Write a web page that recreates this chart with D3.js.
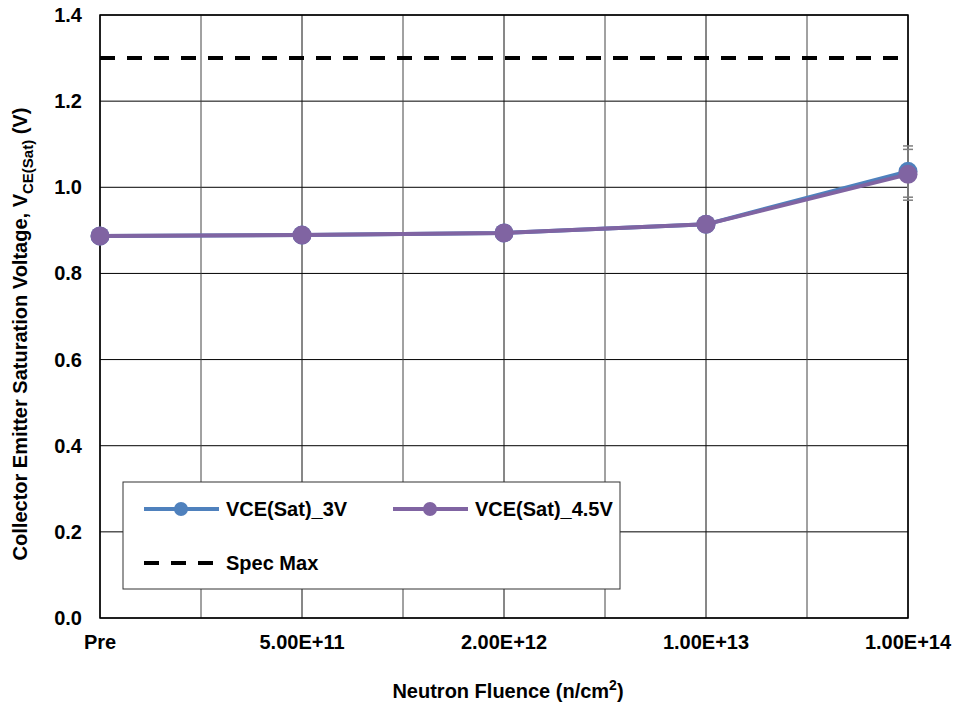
<!DOCTYPE html>
<html><head><meta charset="utf-8">
<script src="https://cdn.jsdelivr.net/npm/d3@7"></script>
<style>body{margin:0;background:#fff}text{font-family:"Liberation Sans",Arial,sans-serif;font-weight:bold}</style>
</head><body><svg id="c" width="955" height="707"></svg>
<script>
const categories = ["Pre","5.00E+11","2.00E+12","1.00E+13","1.00E+14"];
const vce3V = [0.887, 0.889, 0.894, 0.914, 1.037];
const vce45V = [0.887, 0.889, 0.894, 0.914, 1.030];
const err3VHigh = [null, null, null, null, 1.096];
const err3VLow = [null, null, null, null, 0.977];
const err45VHigh = [null, null, null, null, 1.088];
const err45VLow = [null, null, null, null, 0.970];
const specMax = 1.3;
const yTicks = [0,0.2,0.4,0.6,0.8,1.0,1.2,1.4];

const svg = d3.select("#c");
const L=100,R=908,T=15,B=618;
const FS=20;
const x = d3.scaleLinear().domain([0,categories.length-1]).range([L,R]);
const y = d3.scaleLinear().domain([0,1.4]).range([B,T]);

// gridlines
const g = svg.append("g");
yTicks.forEach(t=>g.append("line").attr("x1",L).attr("x2",R).attr("y1",y(t)).attr("y2",y(t)).attr("stroke","#000").attr("stroke-width",1));
d3.range(0,categories.length-0.5,0.5).forEach(i=>{
  g.append("line").attr("x1",x(i)).attr("x2",x(i)).attr("y1",T).attr("y2",B)
   .attr("stroke", Number.isInteger(i)?"#111":"#444").attr("stroke-width",1);
});
svg.append("rect").attr("x",L).attr("y",T).attr("width",R-L).attr("height",B-T).attr("fill","none").attr("stroke","#000").attr("stroke-width",1.5);

// spec max
svg.append("line").attr("x1",L).attr("x2",R).attr("y1",y(specMax)).attr("y2",y(specMax))
  .attr("stroke","#000").attr("stroke-width",4).attr("stroke-dasharray","15,12");

// error bars
function errBars(hi,lo){
  categories.forEach((c,i)=>{
    if(hi[i]==null) return;
    svg.append("line").attr("x1",x(i)).attr("x2",x(i)).attr("y1",y(hi[i])).attr("y2",y(lo[i])).attr("stroke","#7f7f7f").attr("stroke-width",1.5);
    [hi[i],lo[i]].forEach(v=>svg.append("line").attr("x1",x(i)-5).attr("x2",x(i)+5).attr("y1",y(v)).attr("y2",y(v)).attr("stroke","#7f7f7f").attr("stroke-width",1.5));
  });
}
errBars(err3VHigh,err3VLow);
errBars(err45VHigh,err45VLow);

const line = d3.line().x((d,i)=>x(i)).y(d=>y(d));
function series(vals,color){
  svg.append("path").datum(vals).attr("d",line).attr("fill","none").attr("stroke",color).attr("stroke-width",4);
  vals.forEach((v,i)=>svg.append("circle").attr("cx",x(i)).attr("cy",y(v)).attr("r",9.5).attr("fill",color));
}
series(vce3V,"#4f81bd");
series(vce45V,"#8064a2");

// axes labels
yTicks.forEach(t=>svg.append("text").attr("x",82).attr("y",y(t)+7).attr("text-anchor","end").attr("font-size",FS).text(t.toFixed(1)));
categories.forEach((c,i)=>svg.append("text").attr("x",x(i)).attr("y",649).attr("text-anchor","middle").attr("font-size",FS).text(c));

const xt = svg.append("text").attr("x",508).attr("y",698).attr("text-anchor","middle").attr("font-size",FS);
xt.append("tspan").text("Neutron Fluence (n/cm");
xt.append("tspan").attr("font-size",14).attr("dy",-8).text("2");
xt.append("tspan").attr("dy",8).text(")");

const yt = svg.append("text").attr("transform","translate(27,334) rotate(-90)").attr("text-anchor","middle").attr("font-size",FS);
yt.append("tspan").text("Collector Emitter Saturation Voltage, V");
yt.append("tspan").attr("font-size",15).attr("dy",6).text("CE(Sat)");
yt.append("tspan").attr("dy",-6).text(" (V)");

// legend
const lg = svg.append("g");
lg.append("rect").attr("x",123).attr("y",482).attr("width",497).attr("height",107).attr("fill","#fff").attr("stroke","#333").attr("stroke-width",1);
function legItem(x0,y0,color,label,dashed){
  lg.append("line").attr("x1",x0).attr("x2",x0+75).attr("y1",y0).attr("y2",y0).attr("stroke",color).attr("stroke-width",4)
    .attr("stroke-dasharray",dashed?"15,12":null);
  if(!dashed) lg.append("circle").attr("cx",x0+37).attr("cy",y0).attr("r",7).attr("fill",color);
  lg.append("text").attr("x",x0+82).attr("y",y0+7).attr("font-size",FS).text(label);
}
legItem(144,509,"#4f81bd","VCE(Sat)_3V");
legItem(393,509,"#8064a2","VCE(Sat)_4.5V");
legItem(144,563,"#000","Spec Max",true);
</script></body></html>
